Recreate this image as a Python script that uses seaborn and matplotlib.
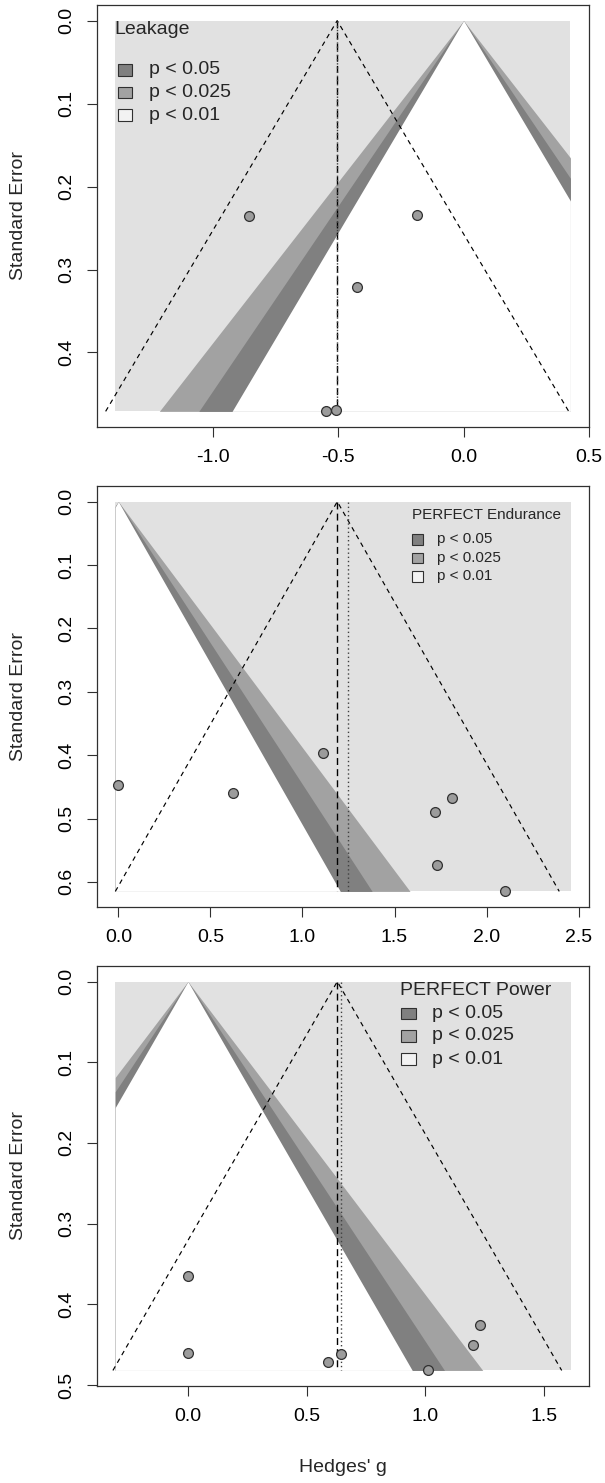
import numpy as np
import pandas as pd
import matplotlib
matplotlib.use("Agg")
import matplotlib.pyplot as plt
from matplotlib.patches import Rectangle
import seaborn as sns

sns.set_style("white")
plt.rcParams['font.family'] = ['Liberation Sans', 'DejaVu Sans']
plt.rcParams['axes.unicode_minus'] = False

# ---------------- data ----------------
leak_g = [-0.856, -0.185, -0.424, -0.548, -0.509]
leak_se = [0.235, 0.234, 0.321, 0.471, 0.469]
leak_est = -0.504
leak_alt = -0.504

endur_g = [0.000, 0.624, 1.113, 1.810, 1.720, 1.728, 2.098]
endur_se = [0.447, 0.460, 0.396, 0.468, 0.490, 0.573, 0.615]
endur_est = 1.189
endur_alt = 1.249

power_g = [0.000, 0.000, 0.591, 0.645, 1.010, 1.199, 1.230]
power_se = [0.365, 0.460, 0.472, 0.462, 0.482, 0.450, 0.426]
power_est = 0.629
power_alt = 0.646

titles = ["Leakage", "PERFECT Endurance", "PERFECT Power"]
legend_labels = ["p < 0.05", "p < 0.025", "p < 0.01"]
z_levels = [1.96, 2.2414, 2.5758]

x_ticks = [[-1.0, -0.5, 0.0, 0.5],
           [0.0, 0.5, 1.0, 1.5, 2.0, 2.5],
           [0.0, 0.5, 1.0, 1.5]]
y_ticks = [[0.0, 0.1, 0.2, 0.3, 0.4],
           [0.0, 0.1, 0.2, 0.3, 0.4, 0.5, 0.6],
           [0.0, 0.1, 0.2, 0.3, 0.4, 0.5]]
shade_range = [(-1.389, 0.426), (-0.017, 2.457), (-0.306, 1.612)]

# ---------------- style ----------------
W, H = 605, 1483
C_LIGHT = "#e1e1e1"
C_MED = "#a2a2a2"
C_DARK = "#808080"
LEG_COLS = [C_DARK, C_MED, "#f2f2f2"]
PT_FILL = "#9c9c9c"
EDGE = "#303030"
FS = 14

fig = plt.figure(figsize=(W / 100, H / 100), dpi=100)

# axes boxes in pixels (left, top, right, bottom)
boxes = [(97, 5, 589, 427), (97, 486, 589, 907), (97, 966, 589, 1386)]

# legend layout in pixels: (title_x, title_y, box_x, box_w, box_h, text_x, rows_y, fontsize)
leg_layout = [
    (114, 29.5, 117.5, 14, 11, 149, [70, 92.5, 115], FS),
    (412, 515, 411.7, 11.7, 10.5, 437, [539.3, 558, 576.3], 11),
    (399.5, 990.7, 401, 14.7, 11.5, 432.5, [1013.3, 1036, 1059], FS),
]

panels = [
    (leak_g, leak_se, leak_est, leak_alt),
    (endur_g, endur_se, endur_est, endur_alt),
    (power_g, power_se, power_est, power_alt),
]


def fx(px):
    return px / W


def fy(py):
    return 1 - py / H


for i, (g, se, est, alt) in enumerate(panels):
    l, t, r, b = boxes[i]
    ax = fig.add_axes([fx(l), fy(b), (r - l) / W, (b - t) / H])
    se = np.asarray(se)
    semax = se.max()
    lo, hi = shade_range[i]

    # background rectangle (outer region)
    ax.add_patch(Rectangle((lo, 0), hi - lo, semax, facecolor=C_LIGHT,
                           edgecolor="none", zorder=0))
    s = np.linspace(0, semax, 400)
    for z, col in zip(z_levels[::-1], [C_MED, C_DARK, "white"]):
        ax.fill_betweenx(s, np.clip(-z * s, lo, hi), np.clip(z * s, lo, hi),
                         color=col, linewidth=0, zorder=1)

    # funnel lines
    ax.plot([est - 1.96 * semax, est, est + 1.96 * semax], [semax, 0, semax],
            color="black", lw=0.85, dashes=(4, 3.5), zorder=2)
    ax.plot([est, est], [0, semax], color="black", lw=1.0,
            dashes=(5, 3), zorder=2)
    ax.plot([alt, alt], [0, semax], color="#404040", lw=1.0,
            dashes=(1, 2), zorder=2)

    df = pd.DataFrame({"g": g, "se": se})
    sns.scatterplot(data=df, x="g", y="se", ax=ax, s=50, color=PT_FILL,
                    edgecolor=EDGE, linewidth=0.9, zorder=3, legend=False)

    pad_x = 0.04 * (hi - lo)
    ax.set_xlim(lo - pad_x, hi + pad_x)
    ax.set_ylim(semax * 1.04, -semax * 0.04)
    ax.set_xticks(x_ticks[i])
    ax.set_xticklabels([f"{v:.1f}" for v in x_ticks[i]])
    ax.set_yticks(y_ticks[i])
    ax.set_yticklabels([f"{v:.1f}" for v in y_ticks[i]], rotation=90,
                       va="center")
    ax.set_xlabel("")
    ax.set_ylabel("")
    ax.tick_params(axis="both", direction="out", length=7.5, width=0.8,
                   color=EDGE, labelsize=FS, pad=8, labelcolor="black")
    ax.tick_params(axis="x", bottom=True)
    ax.tick_params(axis="y", left=True)
    for sp in ax.spines.values():
        sp.set_visible(True)
        sp.set_color(EDGE)
        sp.set_linewidth(0.9)

    # y label
    fig.text(fx(18.5), fy((t + b) / 2), "Standard Error", rotation=90,
             ha="center", va="center", fontsize=FS)

    # legend drawn manually
    tx, ty, bx, bw, bh, txx, rows, fs = leg_layout[i]
    fig.text(fx(tx), fy(ty), titles[i], ha="left", va="center", fontsize=fs)
    for yy, lab, col in zip(rows, legend_labels, LEG_COLS):
        fig.patches.append(Rectangle((fx(bx), fy(yy + bh / 2)), bw / W, bh / H,
                                     transform=fig.transFigure,
                                     facecolor=col, edgecolor=EDGE,
                                     linewidth=0.8, figure=fig))
        fig.text(fx(txx), fy(yy), lab, ha="left", va="center", fontsize=fs)

fig.text(fx(343), fy(1468), "Hedges' g", ha="center", va="center", fontsize=FS)

fig.savefig("out.png", dpi=100)
